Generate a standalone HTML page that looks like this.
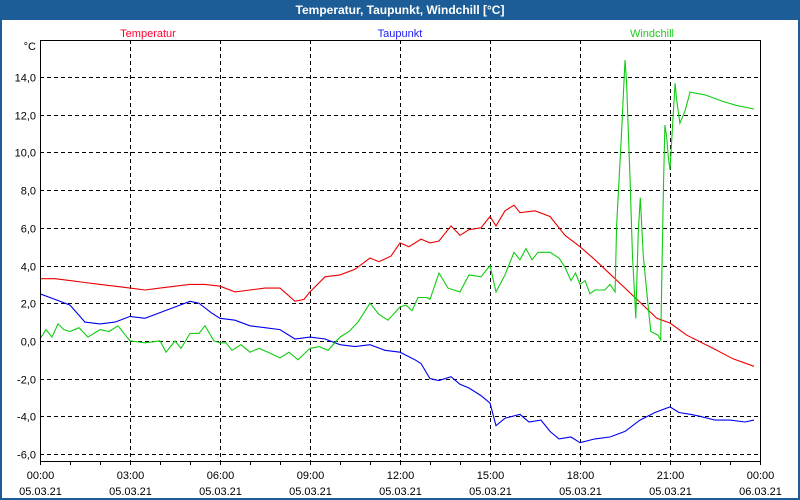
<!DOCTYPE html>
<html><head><meta charset="utf-8"><style>
html,body{margin:0;padding:0;width:800px;height:500px;overflow:hidden;background:#fff;font-family:"Liberation Sans",sans-serif}
</style></head><body>
<svg id="chart" width="800" height="500" xmlns="http://www.w3.org/2000/svg" font-family="Liberation Sans, sans-serif">
<rect x="0" y="0" width="800" height="500" fill="#1d5d97"/>
<rect x="2" y="20" width="796" height="478" fill="#fff"/>
<text x="400" y="14" text-anchor="middle" fill="#fff" font-size="12" font-weight="bold">Temperatur, Taupunkt, Windchill [°C]</text>
<text x="148" y="37" text-anchor="middle" fill="#ff0033" font-size="11">Temperatur</text>
<text x="400" y="37" text-anchor="middle" fill="#2020ee" font-size="11">Taupunkt</text>
<text x="652" y="37" text-anchor="middle" fill="#22cc22" font-size="11">Windchill</text>
<text x="36" y="50" text-anchor="end" font-size="11" fill="#000">°C</text>
<g id="grid"></g><g id="series"></g><g id="axes"></g>
</svg>
<script>
const yTicks=[14,12,10,8,6,4,2,0,-2,-4,-6];
const xTickHours=[0,3,6,9,12,15,18,21,24];
const xTickTimes=["00:00","03:00","06:00","09:00","12:00","15:00","18:00","21:00","00:00"];
const xTickDates=["05.03.21","05.03.21","05.03.21","05.03.21","05.03.21","05.03.21","05.03.21","05.03.21","06.03.21"];
const tempHours=[0,0.5,1,1.5,2,2.5,3,3.5,4,4.5,5,5.5,6,6.5,7,7.5,8,8.5,8.8,9,9.5,10,10.5,11,11.3,11.7,12,12.3,12.7,13,13.3,13.7,14,14.3,14.7,15,15.2,15.5,15.8,16,16.5,17,17.5,18,18.5,19.1,19.5,19.9,20.56,21,21.56,22.44,23.1,23.8];
const tempValues=[3.3,3.3,3.2,3.1,3.0,2.9,2.8,2.7,2.8,2.9,3.0,3.0,2.9,2.6,2.7,2.8,2.8,2.1,2.2,2.6,3.4,3.5,3.8,4.4,4.2,4.5,5.2,5.0,5.4,5.2,5.3,6.1,5.6,5.9,6.0,6.6,6.1,6.9,7.2,6.8,6.9,6.6,5.6,5.0,4.3,3.4,2.8,2.2,1.2,0.95,0.3,-0.4,-0.95,-1.35];
const dewHours=[0,0.5,1,1.5,2,2.5,3,3.5,4,4.5,5,5.3,5.7,6,6.5,7,7.5,8,8.5,9,9.5,10,10.5,11,11.5,12,12.5,12.7,13,13.3,13.7,14,14.3,14.7,15,15.2,15.5,16,16.3,16.7,17,17.3,17.7,18,18.5,19,19.5,20,20.5,21,21.3,21.7,22,22.5,23,23.5,23.8];
const dewValues=[2.5,2.2,1.9,1.0,0.9,1.0,1.3,1.2,1.5,1.8,2.1,2.0,1.5,1.2,1.1,0.8,0.7,0.6,0.1,0.2,0.1,-0.2,-0.3,-0.2,-0.5,-0.6,-1.0,-1.2,-2.0,-2.1,-1.9,-2.3,-2.5,-2.9,-3.3,-4.5,-4.1,-3.9,-4.3,-4.2,-4.8,-5.2,-5.1,-5.4,-5.2,-5.1,-4.8,-4.2,-3.8,-3.5,-3.8,-3.9,-4.0,-4.2,-4.2,-4.3,-4.2];
const windHours=[0,0.2,0.4,0.6,0.8,1,1.3,1.6,2,2.3,2.6,3,3.5,4,4.2,4.5,4.7,5,5.3,5.5,5.8,6,6.2,6.4,6.7,7,7.3,7.6,8,8.3,8.6,9,9.3,9.6,10,10.3,10.6,11,11.3,11.6,12,12.2,12.4,12.6,12.9,13,13.3,13.6,14,14.3,14.7,15,15.2,15.5,15.8,16,16.2,16.4,16.6,17,17.3,17.5,17.7,17.85,18,18.17,18.33,18.5,18.83,19,19.17,19.22,19.39,19.5,19.55,19.67,19.75,19.86,19.94,20.01,20.11,20.3,20.36,20.6,20.69,20.78,20.83,20.89,20.94,21.0,21.09,21.17,21.22,21.33,21.5,21.67,22.17,22.77,23.2,23.8];
const windValues=[0.1,0.6,0.2,0.9,0.6,0.5,0.7,0.2,0.6,0.5,0.8,0.0,-0.1,0.0,-0.6,0.0,-0.4,0.4,0.4,0.8,0.0,-0.1,-0.1,-0.5,-0.2,-0.6,-0.4,-0.6,-0.9,-0.6,-1.0,-0.4,-0.3,-0.5,0.2,0.5,1.0,2.0,1.4,1.1,1.8,1.9,1.6,2.3,2.3,2.2,3.6,2.8,2.6,3.5,3.4,4.0,2.6,3.5,4.7,4.3,4.9,4.3,4.7,4.7,4.4,3.9,3.2,3.6,3.0,3.2,2.5,2.7,2.7,3.0,2.6,6.1,11.2,14.9,13.8,8.5,4.5,1.2,5.7,7.6,4.5,1.4,0.5,0.3,0.05,8.0,11.45,10.8,9.8,9.07,11.55,13.67,12.8,11.55,12.2,13.2,13.05,12.7,12.5,12.3];

const L=40,R=760,T=40,B=461,Y0=77,YSTEP=18.85;
const xs=h=>L+h*(R-L)/24;
const ys=v=>Y0+(14-v)*YSTEP;
const NS="http://www.w3.org/2000/svg";
function mk(tag,attrs,parent){const e=document.createElementNS(NS,tag);for(const k in attrs)e.setAttribute(k,attrs[k]);parent.appendChild(e);return e;}
const grid=document.getElementById('grid'),axes=document.getElementById('axes'),series=document.getElementById('series');
yTicks.forEach(v=>{
  const y=Math.round(ys(v))+0.5;
  const g=mk('line',{x1:L,x2:R,y1:y,y2:y,stroke:'#000','stroke-dasharray':'4,3','stroke-width':1},grid);
  
  
  const t=mk('text',{x:36,y:y+4,'text-anchor':'end','font-size':11,fill:'#000'},axes);
  t.textContent=v.toFixed(1).replace('.',',');
  
  
});
xTickHours.forEach((h,i)=>{
  const x=Math.round(xs(h))+0.5;
  if(i>0&&i<xTickHours.length-1){
    const g=mk('line',{x1:x,x2:x,y1:T,y2:B,stroke:'#000','stroke-dasharray':'4,3','stroke-width':1},grid);
    
    
  }
  const t1=mk('text',{x:x,y:479,'text-anchor':'middle','font-size':11,fill:'#000'},axes);
  t1.textContent=xTickTimes[i];
  
  
  const t2=mk('text',{x:x,y:495,'text-anchor':'middle','font-size':11,fill:'#000'},axes);
  t2.textContent=xTickDates[i];
  
  
});
for(let h=0;h<=24;h++){
  const x=Math.round(xs(h))+0.5;
  const tk=mk('line',{x1:x,x2:x,y1:B,y2:B+4,stroke:'#000'},axes);
  
  
}
const fr=mk('rect',{x:L+0.5,y:T+0.5,width:R-L,height:B-T,fill:'none',stroke:'#000','stroke-width':1},axes);


function line(hs,vs,color,name){
  const p=mk('polyline',{points:hs.map((h,i)=>xs(h).toFixed(1)+','+ys(vs[i]).toFixed(1)).join(' '),fill:'none',stroke:color,'stroke-width':1.1},series);
  
  
}
line(tempHours,tempValues,'#ee0000','temperatur-line');
line(dewHours,dewValues,'#0000ee','taupunkt-line');
line(windHours,windValues,'#11cc11','windchill-line');
</script>
</body></html>
